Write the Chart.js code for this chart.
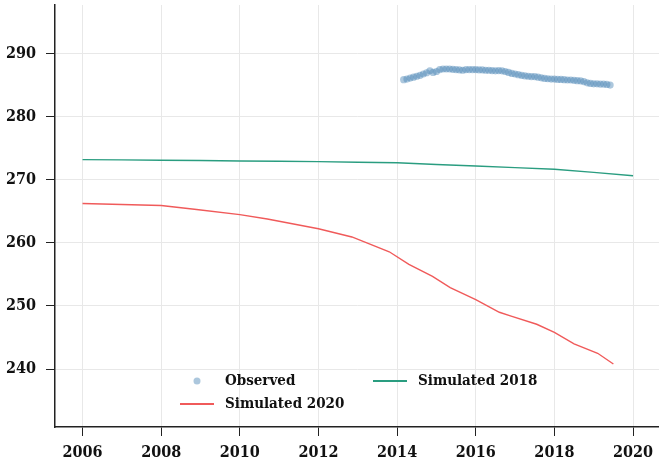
<!DOCTYPE html>
<html>
<head>
<meta charset="utf-8">
<script src="https://cdn.jsdelivr.net/npm/chart.js@4.4.1/dist/chart.umd.min.js"></script>
<style>
  html, body { margin: 0; padding: 0; background: #fff; overflow: hidden; }
  #wrap { width: 663px; height: 465px; }
</style>
</head>
<body>
<div id="wrap"><canvas id="chart"></canvas></div>
<script>
/* Observed vs simulated series, 2006–2020 */

const xTicks = [2006, 2008, 2010, 2012, 2014, 2016, 2018, 2020];
const yTicks = [240, 250, 260, 270, 280, 290];

// observed: monthly, March 2014 .. June 2019
const obsStartYear = 2014;
const obsStartMonth = 3;
const observed = [
    285.9, 286.0, 286.15, 286.3, 286.45, 286.6, 286.8, 287.0, 287.3, 287.05,
    287.2, 287.5, 287.6, 287.6, 287.6, 287.55, 287.5, 287.45, 287.4, 287.5, 287.5, 287.5,
    287.5, 287.45, 287.45, 287.4, 287.4, 287.35, 287.3, 287.35, 287.3, 287.2, 287.05, 286.9,
    286.8, 286.7, 286.6, 286.5, 286.45, 286.4, 286.4, 286.3, 286.2, 286.1, 286.05, 286.0,
    286.0, 285.95, 285.95, 285.9, 285.85, 285.85, 285.8, 285.75, 285.7, 285.6, 285.4, 285.3,
    285.25, 285.25, 285.2, 285.2, 285.15, 285.05
];

// simulated 2018 run, yearly
const sim2018Years = [2006, 2007, 2008, 2009, 2010, 2011, 2012, 2013, 2014, 2015, 2016, 2017, 2018, 2019, 2020];
const sim2018 = [273.22, 273.18, 273.13, 273.07, 273.0, 272.95, 272.9, 272.8, 272.72, 272.45, 272.2, 271.95, 271.7, 271.2, 270.65];

// simulated 2020 run
const sim2020Years = [2006, 2008, 2008.9, 2010, 2010.7, 2012, 2012.85, 2013.8, 2014.3, 2014.9, 2015.35, 2016, 2016.6, 2016.9, 2017.55, 2018, 2018.5, 2019.1, 2019.5];
const sim2020 = [266.25, 265.95, 265.3, 264.5, 263.8, 262.25, 260.95, 258.6, 256.6, 254.7, 252.9, 251.0, 249.0, 248.4, 247.1, 245.8, 244.0, 242.5, 240.8];

const FONT = "'DejaVu Serif Condensed', 'DejaVu Serif', serif";
const OBS_COLOR = 'rgba(70,130,180,0.45)';
const GREEN = '#2a9d80';
const RED = '#f05a5a';

const obsPoints = observed.map((v, i) => ({
    x: obsStartYear + (obsStartMonth - 1 + i) / 12,
    y: v
}));
const pairs = (xs, ys) => xs.map((x, i) => ({ x, y: ys[i] }));

// legend laid out in two columns, column-major like the original figure
const legendPlugin = {
    id: 'colLegend',
    afterDraw(chart) {
        const ctx = chart.ctx;
        ctx.save();
        ctx.font = `bold 15px ${FONT}`;
        ctx.fillStyle = '#111';
        ctx.textBaseline = 'middle';
        ctx.textAlign = 'left';

        // Observed
        ctx.beginPath();
        ctx.fillStyle = OBS_COLOR;
        ctx.arc(197, 381, 3.5, 0, Math.PI * 2);
        ctx.fill();
        ctx.fillStyle = '#111';
        ctx.fillText('Observed', 225, 381);

        // Simulated 2020
        ctx.strokeStyle = RED;
        ctx.lineWidth = 1.8;
        ctx.beginPath();
        ctx.moveTo(180, 404);
        ctx.lineTo(214, 404);
        ctx.stroke();
        ctx.fillText('Simulated 2020', 225, 404);

        // Simulated 2018
        ctx.strokeStyle = GREEN;
        ctx.beginPath();
        ctx.moveTo(373, 381);
        ctx.lineTo(407, 381);
        ctx.stroke();
        ctx.fillText('Simulated 2018', 418, 381);
        ctx.restore();
    }
};

new Chart(document.getElementById('chart'), {
    type: 'scatter',
    data: {
        datasets: [
            {
                label: 'Observed',
                data: obsPoints,
                showLine: false,
                pointRadius: 3.6,
                pointBackgroundColor: OBS_COLOR,
                pointBorderWidth: 0,
                order: 1
            },
            {
                label: 'Simulated 2018',
                data: pairs(sim2018Years, sim2018),
                showLine: true,
                borderColor: GREEN,
                borderWidth: 1.4,
                pointRadius: 0,
                order: 2
            },
            {
                label: 'Simulated 2020',
                data: pairs(sim2020Years, sim2020),
                showLine: true,
                borderColor: RED,
                borderWidth: 1.4,
                pointRadius: 0,
                order: 3
            }
        ]
    },
    options: {
        responsive: true,
        maintainAspectRatio: false,
        animation: false,
        layout: { padding: { top: 5, right: 0, left: 0, bottom: 0 } },
        plugins: {
            legend: { display: false },
            tooltip: { enabled: false }
        },
        scales: {
            x: {
                type: 'linear',
                min: 2005.3,
                max: 2020.66,
                afterBuildTicks: s => { s.ticks = xTicks.map(v => ({ value: v })); },
                afterFit: s => { s.height = 38; s.paddingLeft = 0; s.paddingRight = 0; },
                grid: { color: '#e8e8e8', tickColor: '#222', tickLength: 9, lineWidth: 1 },
                border: { color: '#222', width: 1.5 },
                ticks: {
                    color: '#111',
                    padding: 7,
                    maxRotation: 0,
                    font: { family: FONT, size: 16, weight: 'bold' },
                    callback: v => String(v)
                }
            },
            y: {
                type: 'linear',
                min: 230.8,
                max: 297.75,
                afterBuildTicks: s => { s.ticks = yTicks.map(v => ({ value: v })); },
                afterFit: s => { s.width = 55; s.paddingTop = 0; s.paddingBottom = 0; },
                grid: { color: '#e8e8e8', tickColor: '#222', tickLength: 9, lineWidth: 1 },
                border: { color: '#222', width: 1.5 },
                ticks: {
                    color: '#111',
                    padding: 10,
                    font: { family: FONT, size: 16, weight: 'bold' },
                    callback: v => String(v)
                }
            }
        }
    },
    plugins: [legendPlugin]
});
</script>
</body>
</html>
